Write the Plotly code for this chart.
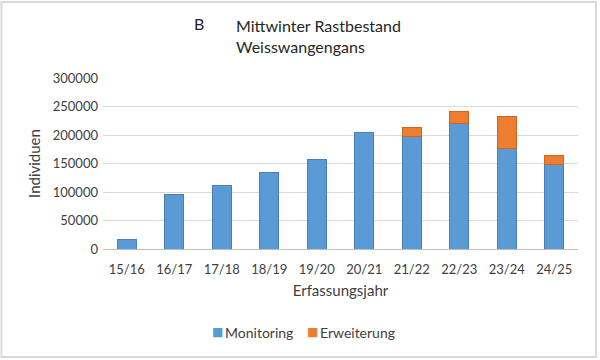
import plotly.graph_objects as go

categories = ["15/16", "16/17", "17/18", "18/19", "19/20", "20/21", "21/22", "22/23", "23/24", "24/25"]
monitoring = [17500, 95500, 111300, 134000, 157300, 204500, 197300, 219500, 176900, 147700]
erweiterung = [0, 0, 0, 0, 0, 0, 15700, 21000, 54800, 15800]
y_ticks = [0, 50000, 100000, 150000, 200000, 250000, 300000]
series_names = ["Monitoring", "Erweiterung"]
series_colors = ["#5B9BD5", "#ED7D31"]

FONT = "Lato"
TXT = "#404040"

fig = go.Figure()
fig.add_trace(go.Bar(
    x=categories, y=monitoring, name=series_names[0],
    marker=dict(color=series_colors[0], line=dict(color="#4A7FB5", width=1)),
))
fig.add_trace(go.Bar(
    x=categories, y=[v if v > 0 else None for v in erweiterung], name=series_names[1],
    marker=dict(color=series_colors[1], line=dict(color="#D0651F", width=1)),
))

L, R, T, B = 103, 22, 78, 111
W, H = 600, 360
pw, ph = W - L - R, H - T - B

def px(x):
    return (x - L) / pw

def py(y):
    return (H - B - y) / ph

legend_ann = []
for name, col, sx in zip(series_names, series_colors, [210, 305]):
    legend_ann.append(dict(text="■", x=px(sx), y=py(332), xref="paper", yref="paper",
                           xanchor="left", yanchor="middle", showarrow=False,
                           font=dict(family="DejaVu Sans", size=12, color=col)))
    legend_ann.append(dict(text=name, x=px(sx + 13), y=py(332), xref="paper", yref="paper",
                           xanchor="left", yanchor="middle", showarrow=False,
                           font=dict(family=FONT, size=14, color=TXT)))

fig.update_layout(
    width=W, height=H,
    barmode="stack",
    bargap=0.61,
    plot_bgcolor="white",
    paper_bgcolor="white",
    margin=dict(l=L, r=R, t=T, b=B, autoexpand=False),
    font=dict(family=FONT, size=13, color=TXT),
    showlegend=False,
    xaxis=dict(
        showgrid=False, showline=True, linecolor="#BFBFBF", linewidth=1,
        ticks="", tickfont=dict(size=13, color=TXT), ticklabelstandoff=8,
        title=dict(text="Erfassungsjahr", font=dict(size=15, color=TXT), standoff=9),
    ),
    yaxis=dict(
        range=[0, 300000], tickvals=y_ticks, ticktext=[str(v) for v in y_ticks],
        showgrid=True, gridcolor="#D9D9D9", gridwidth=1,
        zeroline=False, showline=False, ticks="", ticklabelstandoff=4,
        tickfont=dict(size=13, color=TXT),
        title=dict(text="Individuen", font=dict(size=15, color=TXT), standoff=8),
    ),
    annotations=[
        dict(text="B", x=px(192), y=py(24), xref="paper", yref="paper",
             xanchor="left", yanchor="middle", showarrow=False,
             font=dict(family=FONT, size=16, color="#262626")),
        dict(text="Mittwinter Rastbestand<br>Weisswangengans", x=px(234), y=py(36), xref="paper", yref="paper",
             xanchor="left", yanchor="middle", align="left", showarrow=False,
             font=dict(family=FONT, size=16, color="#262626")),
    ] + legend_ann,
    shapes=[
        dict(type="rect", xref="paper", yref="paper",
             x0=px(1.5), x1=px(596), y0=py(357), y1=py(2),
             line=dict(color="#D9D9D9", width=2), fillcolor="rgba(0,0,0,0)", layer="below"),
    ],
)

fig.write_html("out.html", config={"displayModeBar": False},
               post_script="document.body.style.margin='0';")
